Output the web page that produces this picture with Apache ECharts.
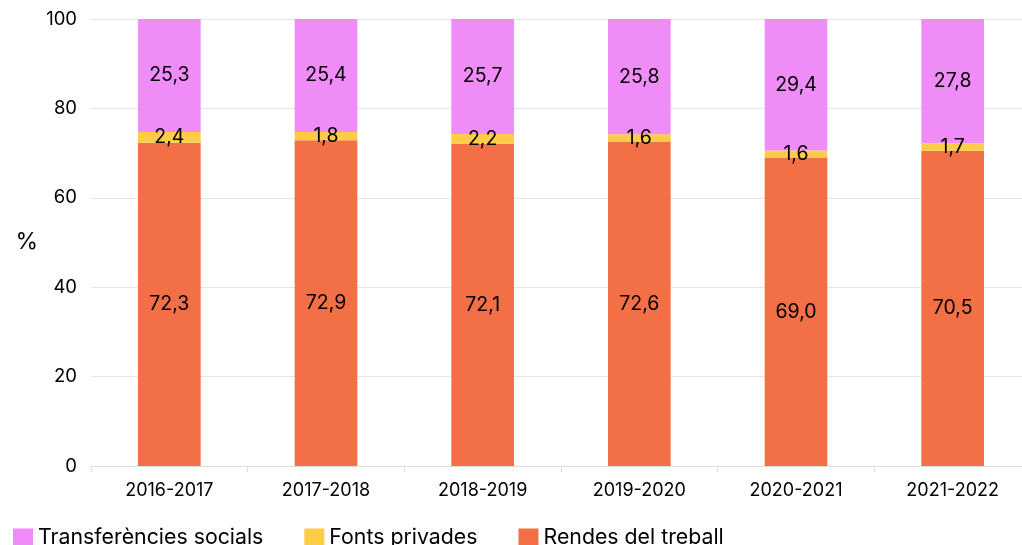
<!DOCTYPE html>
<html><head><meta charset="utf-8">
<script src="https://cdn.jsdelivr.net/npm/echarts@6/dist/echarts.min.js"></script>
<style>html,body{margin:0;padding:0;background:#fff}#c{width:1022px;height:545px}</style>
</head><body><div id="c"></div>
<script>
const categories = ['2016-2017','2017-2018','2018-2019','2019-2020','2020-2021','2021-2022'];
const rendes = [72.3,72.9,72.1,72.6,69.0,70.5];
const fonts = [2.4,1.8,2.2,1.6,1.6,1.7];
const transf = [25.3,25.4,25.7,25.8,29.4,27.8];
const yTicks = [0,20,40,60,80,100];
const FONT = 'Inter';
const fmt = p => p.value.toFixed(1).replace('.', ',');
const lbl = {show:true, position:'inside', formatter:fmt, color:'#000', fontSize:19.5, fontFamily:FONT};
const chart = echarts.init(document.getElementById('c'));
chart.setOption({
  animation:false,
  textStyle:{fontFamily:FONT},
  grid:{left:91, width:940, top:19, bottom:79, containLabel:false, outerBoundsMode:'none'},
  legend:{
    data:['Transferències socials','Fonts privades','Rendes del treball'],
    left:8, top:522, itemWidth:20, itemHeight:18, itemGap:41, icon:'rect',
    textStyle:{fontSize:21.3, color:'#000', fontFamily:FONT}
  },
  xAxis:{type:'category', data:categories,
    axisLine:{lineStyle:{color:'#ddd'}},
    axisTick:{show:true, length:6, lineStyle:{color:'#ddd'}},
    axisLabel:{color:'#000', fontSize:18, margin:16, fontFamily:FONT}},
  yAxis:{type:'value', min:yTicks[0], max:yTicks[yTicks.length-1], interval:20,
    name:'%', nameLocation:'middle', nameRotate:0, nameGap:53,
    nameTextStyle:{color:'#000', fontSize:23, fontFamily:FONT},
    axisLabel:{color:'#000', fontSize:18.5, margin:14, fontFamily:FONT},
    splitLine:{lineStyle:{color:'#e6e6e6'}}},
  series:[
    {name:'Rendes del treball', type:'bar', stack:'a', data:rendes, barWidth:'40%', itemStyle:{color:'#f37047'}, label:lbl},
    {name:'Fonts privades', type:'bar', stack:'a', data:fonts, itemStyle:{color:'#ffcc47'}, label:lbl},
    {name:'Transferències socials', type:'bar', stack:'a', data:transf, itemStyle:{color:'#f08cf8'}, label:lbl}
  ]
});
</script></body></html>
